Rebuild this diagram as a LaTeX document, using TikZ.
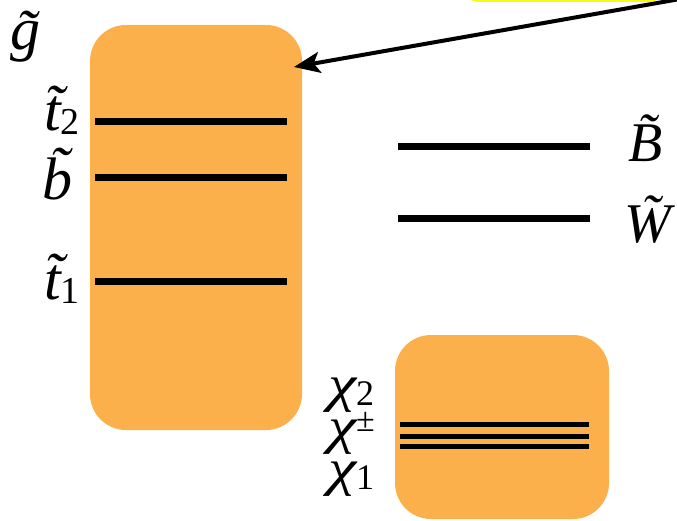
\documentclass[tikz,border=0pt]{standalone}
\usepackage{fontspec}
\setmainfont{Liberation Serif}
\usetikzlibrary{arrows.meta}
\definecolor{boxorange}{RGB}{252,176,76}
\definecolor{hiyellow}{RGB}{250,250,20}
\tikzset{
  box/.style={fill=boxorange, draw=none},
  level/.style={line width=7pt, draw=black},
  lbl/.style={font=\fontsize{60}{64}\selectfont\itshape, inner sep=0pt},
  rlbl/.style={font=\fontsize{56}{60}\selectfont\itshape, inner sep=0pt},
  chilbl/.style={font=\fontsize{54}{58}\selectfont\itshape, inner sep=0pt},
}
\newcommand{\subnum}[2]{\raisebox{-4pt}{\upshape\fontsize{#1}{#1}\selectfont #2}}
\newcommand{\chiglyph}{\scalebox{1.18}[0.95]{χ}}
\begin{document}
\begin{tikzpicture}[x=1pt,y=-1pt]
\useasboundingbox (0,0) rectangle (677,521);
\begin{scope}
\clip (0,0) rectangle (677,521);
\fill[hiyellow] (466,-80) [rounded corners=12pt] rectangle (662,2);
\end{scope}
% boxes
\path[box, rounded corners=36pt] (90,25) rectangle (302,430);
\path[box, rounded corners=36pt] (395,335) rectangle (609,519);
% levels
\coordinate (t2a) at (95,122); \coordinate (t2b) at (287,122);
\coordinate (ba) at (95,178); \coordinate (bb) at (287,178);
\coordinate (t1a) at (95,282); \coordinate (t1b) at (287,282);
\coordinate (Ba) at (398,147); \coordinate (Bb) at (590,147);
\coordinate (Wa) at (398,219); \coordinate (Wb) at (590,219);
\coordinate (c1a) at (400,424); \coordinate (c1b) at (589,424);
\coordinate (c2a) at (400,436); \coordinate (c2b) at (589,436);
\coordinate (c3a) at (400,446); \coordinate (c3b) at (589,446);
\draw[level] (t2a) -- (t2b);
\draw[level] (ba) -- (bb);
\draw[level] (t1a) -- (t1b);
\draw[level] (Ba) -- (Bb);
\draw[level] (Wa) -- (Wb);
\draw[line width=5pt] (c1a) -- (c1b);
\draw[line width=5pt] (c2a) -- (c2b);
\draw[line width=5pt] (c3a) -- (c3b);
% labels
\node[lbl, anchor=base west] (g) at (10,50) {\~g};
\node[lbl, anchor=base east] (t2) at (80,131) {\~t\subnum{38}{2}};
\node[lbl, anchor=base east] (b) at (73,200) {\~b};
\node[lbl, anchor=base east] (t1) at (80,299) {\~t\subnum{38}{1}};
\node[rlbl, anchor=base west] (B) at (628,162) {\~B};
\node[rlbl, anchor=base west] (W) at (624,243) {\~W};
\node[chilbl, anchor=base west] (x2) at (328,401) {\chiglyph\subnum{36}{2}};
\node[chilbl, anchor=base west] (xpm) at (328,443) {\chiglyph\raisebox{12pt}{\upshape\fontsize{34}{34}\selectfont ±}};
\node[chilbl, anchor=base west] (x1) at (328,485) {\chiglyph\subnum{36}{1}};
% arrow
\coordinate (arrs) at (680,-1);
\coordinate (arre) at (294,67);
\draw[line width=4pt, -{Stealth[length=26pt,width=21pt,inset=6pt]}] (arrs) -- (arre);
\end{tikzpicture}
\end{document}
